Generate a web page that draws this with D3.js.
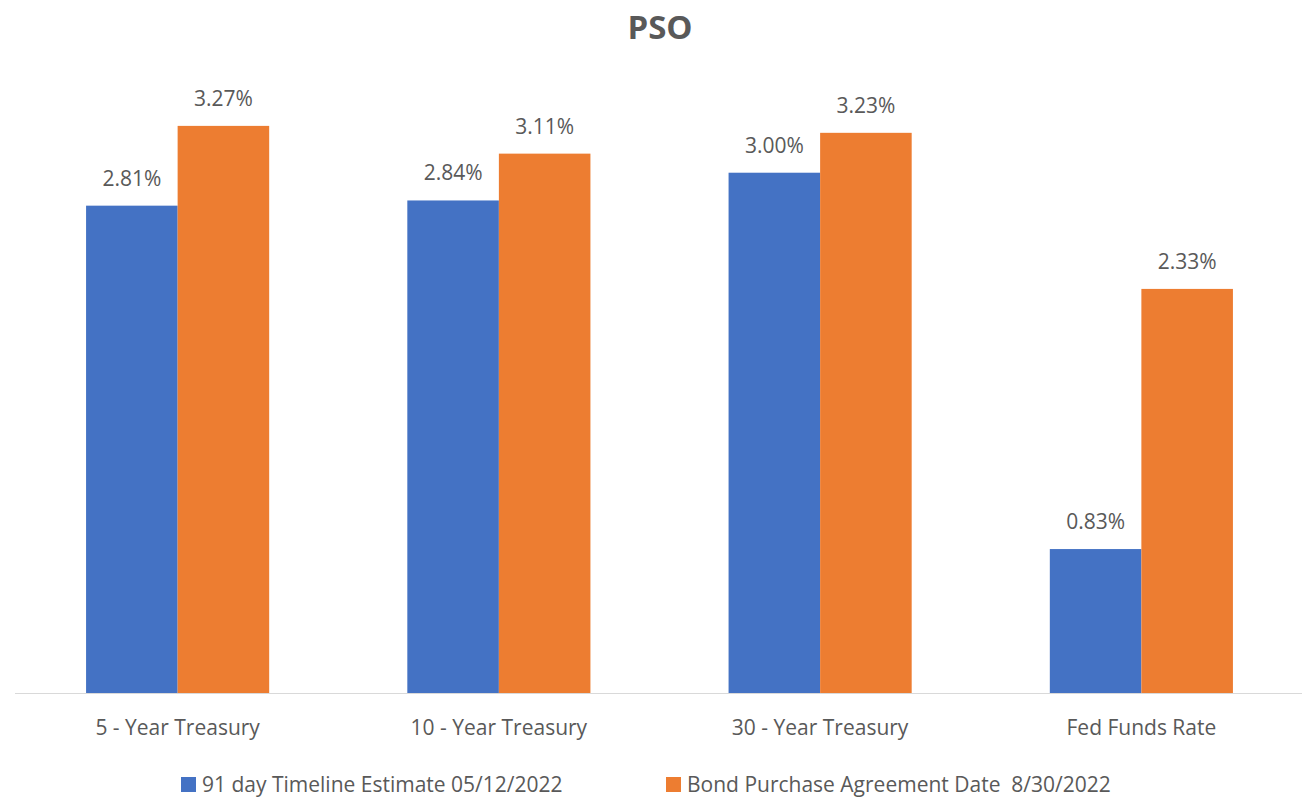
<!DOCTYPE html>
<html>
<head>
<meta charset="utf-8">
<script src="https://cdn.jsdelivr.net/npm/d3@7"></script>
<style>
  body { margin: 0; background: #fff; }
  text { font-family: "Open Sans", "Noto Sans", sans-serif; }
</style>
</head>
<body>
<svg id="chart"></svg>
<script>
const categories = ['5 - Year Treasury', '10 - Year Treasury', '30 - Year Treasury', 'Fed Funds Rate'];
const seriesNames = ['91 day Timeline Estimate 05/12/2022', 'Bond Purchase Agreement Date  8/30/2022'];
const estimate91 = [2.81, 2.84, 3.00, 0.83];
const bondPurchase = [3.27, 3.11, 3.23, 2.33];

const width = 1305, height = 800;
const colors = ['#4472c4', '#ed7d31'];
const textColor = '#595959';

const svg = d3.select('#chart')
    .attr('width', width)
    .attr('height', height);

const rows = categories.map((c, i) => ({ cat: c, values: [estimate91[i], bondPurchase[i]] }));

const x = d3.scaleBand()
    .domain(categories)
    .range([17, 1302])
    .paddingInner(0.43)
    .paddingOuter(0.215);

const xInner = d3.scaleBand()
    .domain([0, 1])
    .range([0, x.bandwidth()]);

const y = d3.scaleLinear()
    .domain([0, 3.5])
    .range([693, 86]);

// title
svg.append('text')
    .attr('x', 660)
    .attr('y', 39)
    .attr('text-anchor', 'middle')
    .attr('font-size', '33px')
    .attr('font-weight', 'bold')
    .attr('fill', textColor)
    .text('PSO');

// bars
const groups = svg.selectAll('.grp').data(rows).enter().append('g')
    .attr('transform', d => `translate(${x(d.cat)},0)`);

groups.selectAll('rect').data(d => d.values).enter().append('rect')
    .attr('x', (d, i) => xInner(i))
    .attr('y', d => y(d))
    .attr('width', xInner.bandwidth())
    .attr('height', d => y(0) - y(d))
    .attr('fill', (d, i) => colors[i]);

groups.selectAll('.lbl').data(d => d.values).enter().append('text')
    .attr('x', (d, i) => xInner(i) + xInner.bandwidth() / 2)
    .attr('y', d => y(d) - 20)
    .attr('text-anchor', 'middle')
    .attr('font-size', '21px')
    .attr('fill', textColor)
    .text(d => d.toFixed(2) + '%');

// x axis
const xaxis = d3.axisBottom(x).tickSize(0).tickPadding(27);
const xg = svg.append('g')
    .attr('transform', `translate(0, ${y(0)})`)
    .call(xaxis);
xg.select('.domain')
    .attr('stroke', '#d9d9d9')
    .attr('d', 'M15,0.5H1302');
xg.selectAll('text')
    .attr('font-size', '21px')
    .attr('fill', textColor)
    .attr('font-family', '"Open Sans", sans-serif');

// legend
const legendX = [181, 666];
const legend = svg.selectAll('.leg').data(seriesNames).enter().append('g')
    .attr('transform', (d, i) => `translate(${legendX[i]}, 792)`);
legend.append('rect')
    .attr('x', 0).attr('y', -15)
    .attr('width', 15).attr('height', 15)
    .attr('fill', (d, i) => colors[i]);
legend.append('text')
    .attr('x', 21)
    .attr('y', 0)
    .attr('font-size', '21px')
    .attr('fill', textColor)
    .attr('xml:space', 'preserve')
    .style('white-space', 'pre')
    .text(d => d);
</script>
</body>
</html>
